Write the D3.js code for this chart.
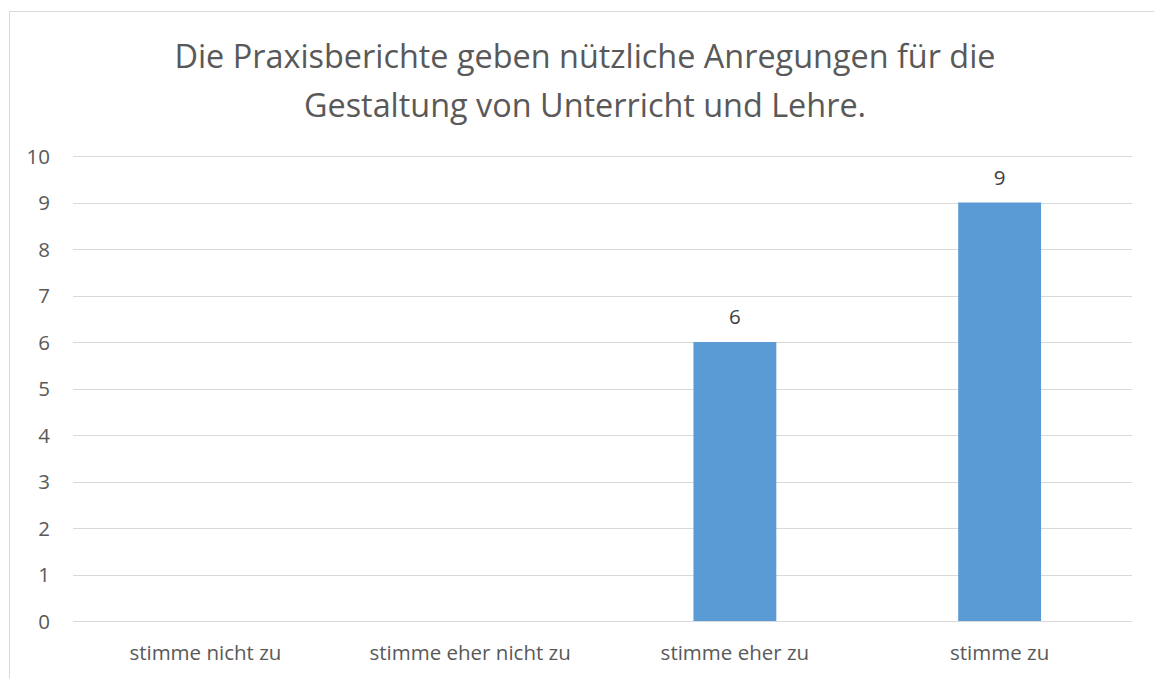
<!DOCTYPE html>
<html><head><meta charset="utf-8">
<script src="https://cdn.jsdelivr.net/npm/d3@7"></script>
<style>body{margin:0;background:#fff}svg{display:block}text{font-family:"Open Sans",sans-serif}</style>
</head><body><svg id="c" width="1154" height="678"></svg>
<script>
const categories = ["stimme nicht zu","stimme eher nicht zu","stimme eher zu","stimme zu"];
const values = [0,0,6,9];
const yTicks = [0,1,2,3,4,5,6,7,8,9,10];
const titleLines = ["Die Praxisberichte geben nützliche Anregungen für die","Gestaltung von Unterricht und Lehre."];

const svg = d3.select("#c");
const m = {left:73, right:1132, top:156, bottom:621};
svg.append("rect").attr("x",9.5).attr("y",11.5).attr("width",1200).attr("height",700)
  .attr("fill","#fff").attr("stroke","#d9d9d9");
const x = d3.scaleBand().domain(categories).range([m.left,m.right]).paddingInner(0.687).paddingOuter(0.3435);
const y = d3.scaleLinear().domain([0,10]).range([m.bottom,m.top]);

svg.append("g").selectAll("line").data(yTicks).join("line")
  .attr("x1",m.left).attr("x2",m.right).attr("y1",d=>Math.round(y(d))+0.5).attr("y2",d=>Math.round(y(d))+0.5)
  .attr("stroke","#d9d9d9").attr("stroke-width",1);

const ya = svg.append("g").attr("transform",`translate(${m.left},0)`)
  .call(d3.axisLeft(y).tickValues(yTicks).tickSize(0).tickPadding(23).tickFormat(d3.format("d")));
ya.select(".domain").remove();
ya.selectAll("text").attr("fill","#595959").attr("dy","0.36em").style("font-size","20.5px").style("font-family","'Open Sans',sans-serif");

const xa = svg.append("g").attr("transform",`translate(0,${m.bottom})`)
  .call(d3.axisBottom(x).tickSize(0).tickPadding(24));
xa.select(".domain").remove();
xa.selectAll("text").attr("fill","#595959").style("font-size","20.5px").style("font-family","'Open Sans',sans-serif");

const barData = values.map((v,i)=>({c:categories[i],v})).filter(d=>d.v>0);
svg.append("g").selectAll("rect").data(barData).join("rect")
  .attr("x",d=>x(d.c)).attr("width",x.bandwidth()).attr("y",d=>y(d.v)).attr("height",d=>y(0)-y(d.v))
  .attr("fill","#5b9bd5");

svg.append("g").selectAll("text").data(barData).join("text")
  .attr("x",d=>x(d.c)+x.bandwidth()/2).attr("y",d=>y(d.v)-18).attr("text-anchor","middle")
  .attr("fill","#404040").style("font-size","20.5px").text(d=>d.v);

svg.append("g").selectAll("text").data(titleLines).join("text")
  .attr("x",585).attr("y",(d,i)=>68+i*49).attr("text-anchor","middle")
  .attr("fill","#595959").style("font-size","32.4px").text(d=>d);
</script></body></html>
